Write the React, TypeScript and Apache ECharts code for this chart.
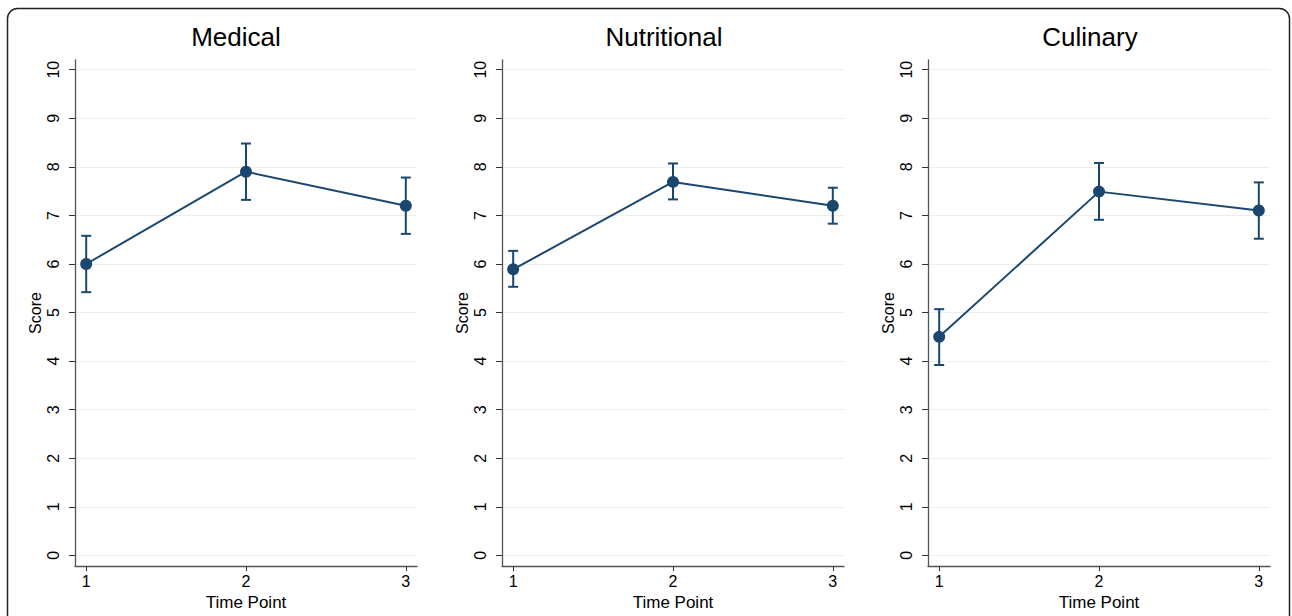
import React, { useEffect, useRef } from "react";
import * as echarts from "echarts";

const panels = ["Medical", "Nutritional", "Culinary"];
const timePoints = [1, 2, 3];
const yTicks = [0, 1, 2, 3, 4, 5, 6, 7, 8, 9, 10];

const medicalMean = [6.0, 7.9, 7.2];
const medicalLow = [5.42, 7.32, 6.62];
const medicalHigh = [6.58, 8.48, 7.78];

const nutritionalMean = [5.89, 7.69, 7.2];
const nutritionalLow = [5.53, 7.33, 6.83];
const nutritionalHigh = [6.27, 8.07, 7.57];

const culinaryMean = [4.5, 7.49, 7.1];
const culinaryLow = [3.92, 6.91, 6.52];
const culinaryHigh = [5.07, 8.08, 7.68];

const means = [medicalMean, nutritionalMean, culinaryMean];
const lows = [medicalLow, nutritionalLow, culinaryLow];
const highs = [medicalHigh, nutritionalHigh, culinaryHigh];

const NAVY = "#1a476f";
const FONT = "'Liberation Sans', Arial, Helvetica, sans-serif";

export default function App() {
  const ref = useRef<HTMLDivElement>(null);

  useEffect(() => {
    if (!ref.current) return;
    const chart = echarts.init(ref.current, null, { renderer: "svg" });

    const gridLefts = [75, 502, 928];
    const gridWidth = 342;
    const titleCenters = [236, 664, 1090];

    const grids = gridLefts.map((l) => ({
      left: l,
      width: gridWidth,
      top: 60,
      height: 508,
    }));

    const xAxes = gridLefts.map((_, i) => ({
      type: "value",
      gridIndex: i,
      min: 0.93,
      max: 3.07,
      name: "Time Point",
      nameLocation: "middle",
      nameGap: 24,
      nameTextStyle: { fontFamily: FONT, fontSize: 17, color: "#000" },
      axisLine: { show: true, onZero: false, lineStyle: { color: "#555", width: 1.3 } },
      axisTick: { show: true, length: 5, customValues: timePoints, lineStyle: { color: "#333" } },
      axisLabel: {
        customValues: timePoints,
        margin: 7,
        fontFamily: FONT,
        fontSize: 16,
        color: "#000",
      },
      splitLine: { show: false },
    }));

    const yAxes = gridLefts.map((_, i) => ({
      type: "value",
      gridIndex: i,
      min: -0.22,
      max: 10.2,
      name: "Score",
      nameLocation: "middle",
      nameRotate: 90,
      nameGap: 32,
      nameTextStyle: { fontFamily: FONT, fontSize: 16, color: "#000" },
      axisLine: { show: true, lineStyle: { color: "#555", width: 1.3 } },
      axisTick: { show: true, length: 6, customValues: yTicks, lineStyle: { color: "#333" } },
      axisLabel: {
        customValues: yTicks,
        rotate: 90,
        margin: 14,
        fontFamily: FONT,
        fontSize: 16,
        color: "#000",
      },
      splitLine: { show: true, lineStyle: { color: "#e9f0f2", width: 1 } },
    }));

    const series: any[] = [];
    panels.forEach((_, i) => {
      series.push({
        type: "custom",
        xAxisIndex: i,
        yAxisIndex: i,
        data: timePoints.map((t, k) => [t, lows[i][k], highs[i][k]]),
        encode: { x: 0, y: [1, 2] },
        renderItem: (params: any, api: any) => {
          const x = api.value(0);
          const lo = api.coord([x, api.value(1)]);
          const hi = api.coord([x, api.value(2)]);
          const cap = 5;
          const style = { stroke: NAVY, lineWidth: 2 };
          return {
            type: "group",
            children: [
              { type: "line", shape: { x1: lo[0], y1: lo[1], x2: hi[0], y2: hi[1] }, style },
              { type: "line", shape: { x1: lo[0] - cap, y1: lo[1], x2: lo[0] + cap, y2: lo[1] }, style },
              { type: "line", shape: { x1: hi[0] - cap, y1: hi[1], x2: hi[0] + cap, y2: hi[1] }, style },
            ],
          };
        },
        z: 2,
      });
      series.push({
        type: "line",
        xAxisIndex: i,
        yAxisIndex: i,
        data: timePoints.map((t, k) => [t, means[i][k]]),
        symbol: "circle",
        symbolSize: 12,
        lineStyle: { color: NAVY, width: 2 },
        itemStyle: { color: NAVY },
        z: 3,
      });
    });

    chart.setOption({
      animation: false,
      backgroundColor: "#fff",
      grid: grids,
      xAxis: xAxes,
      yAxis: yAxes,
      series,
      graphic: [
        ...panels.map((p, i) => ({
          type: "text",
          x: titleCenters[i],
          y: 37,
          silent: true,
          style: {
            text: p,
            fontFamily: FONT,
            fontSize: 26,
            fill: "#000",
            textAlign: "center",
            textVerticalAlign: "middle",
          },
        })),
        {
          type: "rect",
          shape: { x: 7.5, y: 8.5, width: 1282, height: 640, r: 10 },
          style: { fill: "none", stroke: "#222", lineWidth: 1.5 },
          silent: true,
          z: 10,
        },
      ],
    });

    return () => chart.dispose();
  }, []);

  return (
    <div
      ref={ref}
      style={{ position: "fixed", left: 0, top: 0, width: 1292, height: 616 }}
    />
  );
}
